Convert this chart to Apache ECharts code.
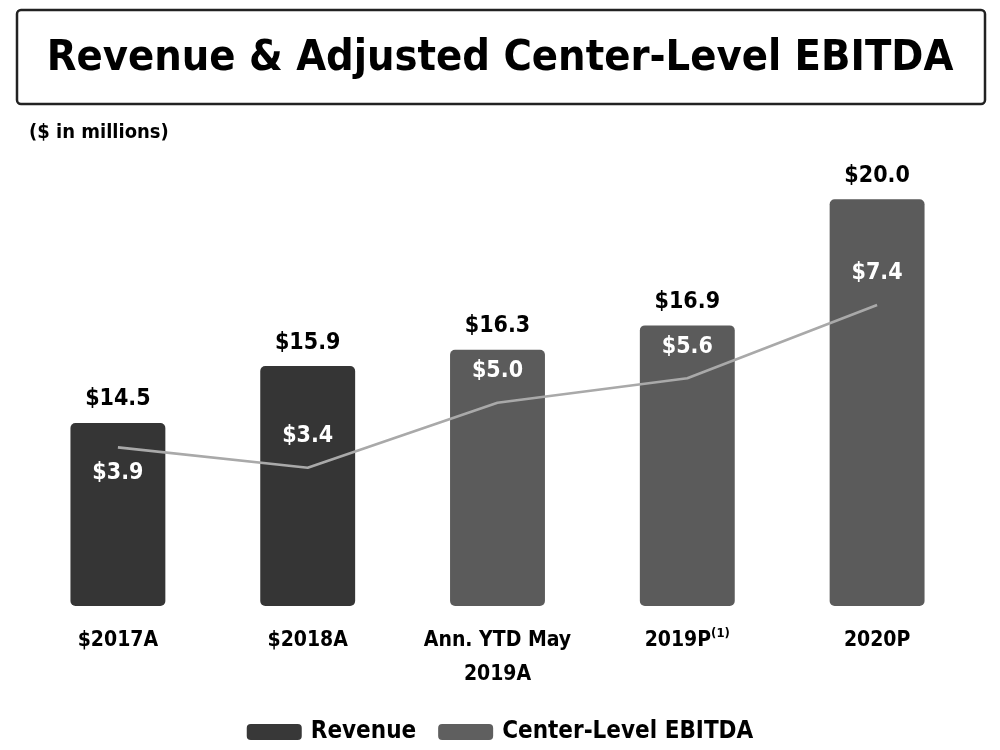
<!DOCTYPE html>
<html>
<head>
<meta charset="utf-8">
<script src="https://cdn.jsdelivr.net/npm/echarts@6/dist/echarts.min.js"></script>
<style>
  html, body { margin: 0; padding: 0; background: #fff; }
  #chart { width: 1000px; height: 750px; }
</style>
</head>
<body>
<div id="chart"></div>
<script>
  // data
  var categories = ['$2017A', '$2018A', 'Ann. YTD May\n2019A', '2019P', '2020P'];
  var footnotes = ['', '', '', '(1)', ''];
  var revenue = [14.5, 15.9, 16.3, 16.9, 20.0];
  var ebitda = [3.9, 3.4, 5.0, 5.6, 7.4];
  var barColors = ['#353535', '#353535', '#5b5b5b', '#5b5b5b', '#5b5b5b'];
  var ebitdaLabelPos = ['bottom', 'top', 'top', 'top', 'top'];

  var font = '"DejaVu Sans Condensed", "Liberation Sans Narrow", sans-serif';

  var chart = echarts.init(document.getElementById('chart'));
  chart.setOption({
    backgroundColor: '#fff',
    textStyle: { fontFamily: font },
    // title box
    graphic: [{
      type: 'rect',
      shape: { x: 17, y: 10, width: 968, height: 94, r: 4 },
      style: { fill: '#fff', stroke: '#222', lineWidth: 2.5 },
      z: 0
    }],
    title: [{
      text: 'Revenue & Adjusted Center-Level EBITDA',
      left: 'center',
      top: 32,
      textStyle: { fontSize: 43, fontWeight: 'bold', color: '#000', fontFamily: font }
    }, {
      text: '($ in millions)',
      left: 24,
      top: 118,
      textStyle: { fontSize: 20, fontWeight: 'bold', color: '#000', fontFamily: font }
    }],
    legend: {
      bottom: 1,
      left: 'center',
      icon: 'roundRect',
      itemWidth: 55,
      itemHeight: 16,
      itemGap: 22,
      textStyle: { fontSize: 24, fontWeight: 'bold', color: '#000', fontFamily: font, padding: [0, 0, 0, 4] },
      data: [
        { name: 'Revenue', itemStyle: { color: '#383838' } },
        { name: 'Center-Level EBITDA', itemStyle: { color: '#5f5f5f' } }
      ]
    },
    grid: { left: 23, right: 28, top: 118, bottom: 144, containLabel: false },
    xAxis: {
      type: 'category',
      data: categories,
      axisLine: { show: false },
      axisTick: { show: false },
      axisLabel: {
        interval: 0,
        margin: 18,
        lineHeight: 34,
        color: '#000',
        fontSize: 21,
        fontWeight: 'bold',
        formatter: function (v, i) {
          return footnotes[i] ? v + '{sup|' + footnotes[i] + '}' : v;
        },
        rich: {
          sup: { fontSize: 13, fontWeight: 'bold', color: '#000', padding: [0, 0, 14, 0], fontFamily: font }
        }
      }
    },
    yAxis: [{
      type: 'value',
      min: 10,
      max: 22,
      show: false,
      splitLine: { show: false }
    }, {
      type: 'value',
      min: 0,
      max: 12,
      show: false,
      splitLine: { show: false }
    }],
    series: [{
      name: 'Revenue',
      type: 'bar',
      barWidth: '50%',
      data: revenue,
      itemStyle: {
        borderRadius: 5,
        color: function (p) { return barColors[p.dataIndex]; }
      },
      label: {
        show: true,
        position: 'top',
        distance: 12,
        color: '#000',
        fontSize: 23,
        fontWeight: 'bold',
        formatter: function (p) { return '$' + p.value.toFixed(1); }
      }
    }, {
      name: 'Center-Level EBITDA',
      type: 'line',
      yAxisIndex: 1,
      symbol: 'circle',
      symbolSize: 0.1,
      lineStyle: { color: '#a9a9a9', width: 2.6 },
      itemStyle: { color: '#5f5f5f' },
      data: ebitda.map(function (v, i) {
        return { value: v, label: { position: ebitdaLabelPos[i], distance: i === 0 ? 14 : 20 } };
      }),
      label: {
        show: true,
        color: '#fff',
        fontSize: 23,
        fontWeight: 'bold',
        formatter: function (p) { return '$' + p.value.toFixed(1); }
      },
      z: 3
    }]
  });
</script>
</body>
</html>
